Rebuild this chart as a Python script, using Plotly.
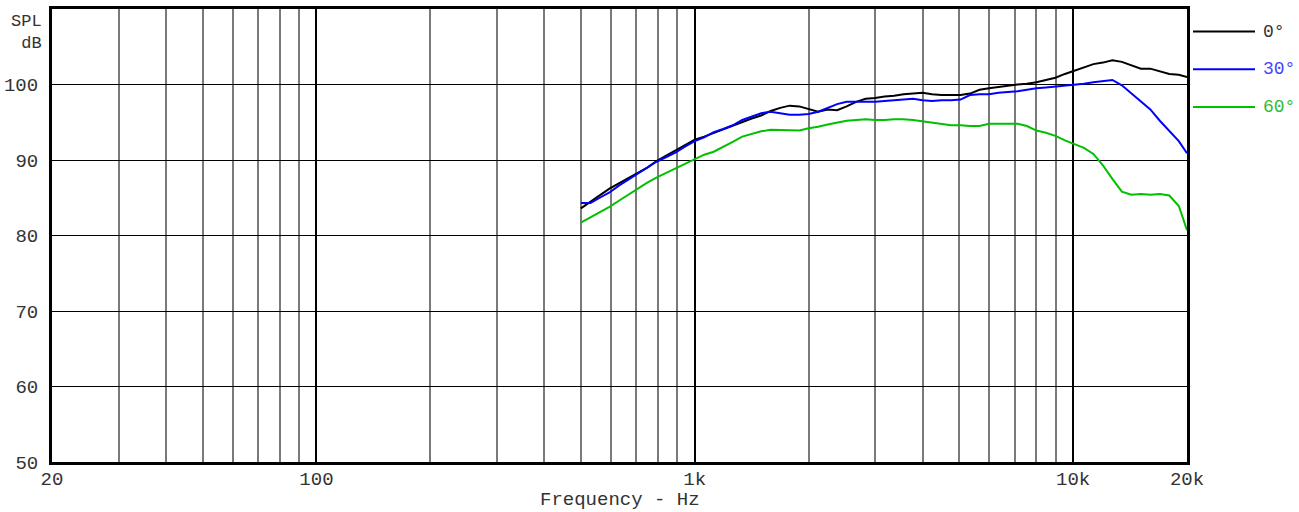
import plotly.graph_objects as go

freq_hz = [500, 530, 561, 595, 630, 667, 707, 749, 794, 841, 891, 944, 1000, 1059, 1122, 1189,
           1260, 1335, 1414, 1498, 1587, 1682, 1782, 1888, 2000, 2119, 2245, 2378, 2520, 2670,
           2828, 2997, 3175, 3364, 3564, 3775, 4000, 4238, 4490, 4757, 5040, 5339, 5657, 5993,
           6350, 6727, 7127, 7551, 8000, 8476, 8980, 9514, 10079, 10679, 11314, 11986, 12699,
           13454, 14254, 15102, 16000, 16951, 17959, 19027, 20000]

spl_0deg = [83.6, 84.5, 85.4, 86.2, 86.9, 87.6, 88.3, 89.0, 89.9, 90.6, 91.4, 92.0, 92.7, 93.1,
            93.6, 94.1, 94.6, 95.1, 95.5, 95.9, 96.5, 96.9, 97.2, 97.1, 96.7, 96.4, 96.7, 96.6,
            97.1, 97.7, 98.1, 98.2, 98.4, 98.5, 98.7, 98.8, 98.9, 98.7, 98.6, 98.6, 98.6, 98.8,
            99.3, 99.5, 99.7, 99.9, 100.0, 100.1, 100.3, 100.6, 100.9, 101.4, 101.8, 102.3,
            102.7, 102.9, 103.2, 103.0, 102.6, 102.1, 102.1, 101.8, 101.4, 101.3, 101.0]

spl_30deg = [84.3, 84.3, 85.0, 85.7, 86.6, 87.4, 88.2, 89.0, 89.8, 90.4, 91.0, 91.8, 92.5, 93.0,
             93.7, 94.1, 94.6, 95.3, 95.8, 96.2, 96.4, 96.2, 96.0, 96.0, 96.1, 96.4, 96.9, 97.4,
             97.7, 97.7, 97.7, 97.7, 97.8, 97.9, 98.0, 98.1, 97.9, 97.8, 97.9, 97.9, 98.0, 98.6,
             98.7, 98.7, 98.9, 99.0, 99.1, 99.3, 99.5, 99.6, 99.7, 99.8, 99.9, 100.1, 100.3,
             100.5, 100.6, 99.9, 98.8, 97.8, 96.7, 95.2, 93.8, 92.5, 90.9]

spl_60deg = [81.7, 82.4, 83.1, 83.8, 84.6, 85.4, 86.3, 87.0, 87.7, 88.3, 88.9, 89.6, 90.2, 90.7,
             91.1, 91.7, 92.4, 93.1, 93.5, 93.8, 94.0, 94.0, 94.0, 93.9, 94.2, 94.4, 94.7, 95.0,
             95.2, 95.3, 95.4, 95.3, 95.3, 95.4, 95.4, 95.3, 95.1, 95.0, 94.7, 94.6, 94.6, 94.5,
             94.5, 94.8, 94.8, 94.8, 94.8, 94.5, 93.9, 93.6, 93.2, 92.6, 92.1, 91.6, 90.8, 89.3,
             87.5, 85.8, 85.4, 85.5, 85.4, 85.5, 85.3, 83.9, 80.7]

series_names = ["0°", "30°", "60°"]
line_colors = ["#000000", "#0000ff", "#00c000"]
text_colors = ["#333333", "#4444ff", "#33bb33"]

x_tick_vals = [20, 100, 1000, 10000, 20000]
x_tick_text = ["20", "100", "1k", "10k", "20k"]
x_minor_vals = [30, 40, 50, 60, 70, 80, 90, 200, 300, 400, 500, 600, 700, 800, 900,
                2000, 3000, 4000, 5000, 6000, 7000, 8000, 9000]
y_tick_vals = [50, 60, 70, 80, 90, 100]

FONT = "Liberation Mono, Courier New, monospace"
TXT = "#333333"

fig = go.Figure()
for name, ys, col in zip(series_names, [spl_0deg, spl_30deg, spl_60deg], line_colors):
    fig.add_trace(go.Scatter(x=freq_hz, y=ys, mode="lines", name=name,
                             line=dict(color=col, width=2), showlegend=False))

fig.update_layout(
    width=1299, height=512,
    margin=dict(l=52, r=112, t=9, b=50, autoexpand=False),
    showlegend=False,
    paper_bgcolor="white", plot_bgcolor="white",
    font=dict(family=FONT, size=19, color=TXT),
    xaxis=dict(
        type="log", range=[1.30103, 4.30103], automargin=False,
        tickvals=x_tick_vals, ticktext=x_tick_text,
        showgrid=True, gridcolor="#000000", gridwidth=2,
        minor=dict(tickvals=x_minor_vals, showgrid=True, gridcolor="#7a7a7a", gridwidth=2, ticks=""),
        showline=True, linecolor="black", linewidth=3, mirror=True,
        ticks="", ticklabelstandoff=-3, zeroline=False,
        tickfont=dict(family=FONT, size=19, color=TXT),
    ),
    yaxis=dict(
        range=[50, 110], tickvals=y_tick_vals, automargin=False,
        showgrid=True, gridcolor="#000000", gridwidth=1,
        showline=True, linecolor="black", linewidth=3, mirror=True,
        ticks="", ticklabelstandoff=7, zeroline=False,
        tickfont=dict(family=FONT, size=19, color=TXT),
    ),
)

# x axis title
fig.add_annotation(text="Frequency - Hz", x=0.5, y=(462 - 499.5) / 453, xref="paper", yref="paper",
                   xanchor="center", yanchor="middle", showarrow=False,
                   font=dict(family=FONT, size=19, color=TXT))

# y axis unit label
fig.add_annotation(text="SPL<br>dB", x=0, y=(462 - 10) / 453, xref="paper", yref="paper",
                   xanchor="right", yanchor="top", align="right", xshift=-8, yshift=0,
                   showarrow=False, font=dict(family=FONT, size=17, color=TXT))

# legend (drawn manually to match long sample lines)
legend_y_px = [31.5, 69.3, 107.0]
for name, col, tcol, ypx in zip(series_names, line_colors, text_colors, legend_y_px):
    yp = (462 - ypx) / 453
    x0 = (1193 - 52) / 1135
    x1 = (1255 - 52) / 1135
    fig.add_shape(type="line", xref="paper", yref="paper", x0=x0, x1=x1, y0=yp, y1=yp,
                  line=dict(color=col, width=2))
    fig.add_annotation(text=name, x=(1261 - 52) / 1135, y=yp, xref="paper", yref="paper",
                       xanchor="left", yanchor="middle", showarrow=False,
                       font=dict(family=FONT, size=18, color=tcol))

fig.write_html("out.html", config={"displayModeBar": False},
               post_script="document.body.style.margin='0';document.body.style.overflow='hidden';")
